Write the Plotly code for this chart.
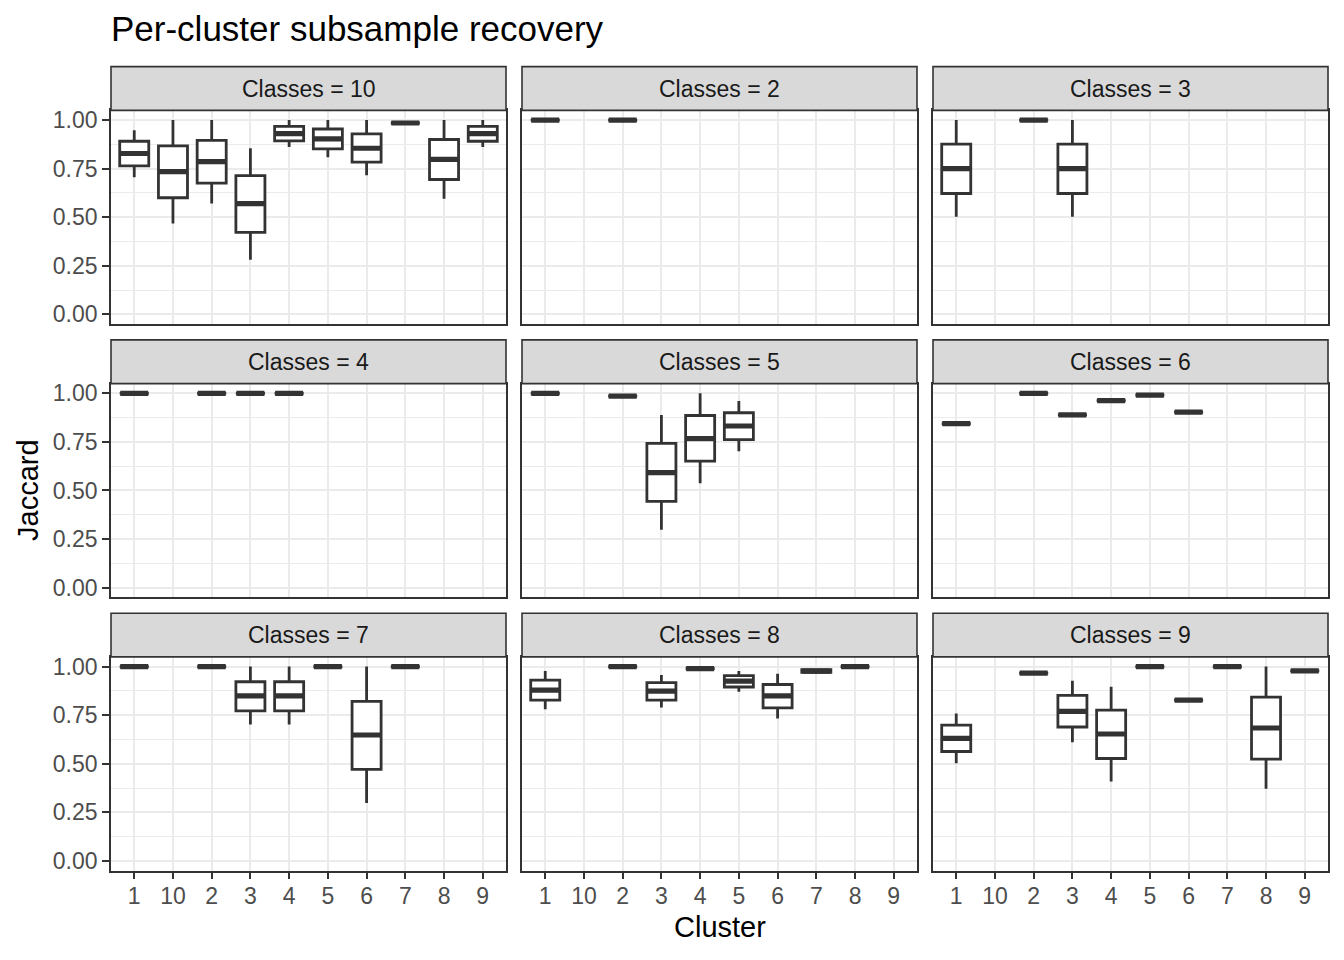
import plotly.graph_objects as go

# ---------------- data ----------------
cluster_order = ["1", "10", "2", "3", "4", "5", "6", "7", "8", "9"]
panel_labels = ["Classes = 10", "Classes = 2", "Classes = 3",
                "Classes = 4", "Classes = 5", "Classes = 6",
                "Classes = 7", "Classes = 8", "Classes = 9"]
y_tick_vals = [0.0, 0.25, 0.5, 0.75, 1.0]
y_tick_text = ["0.00", "0.25", "0.50", "0.75", "1.00"]

# Classes = 10
k10_x = ["1", "10", "2", "3", "4", "5", "6", "7", "8", "9"]
k10_low = [0.706, 0.468, 0.570, 0.281, 0.861, 0.808, 0.716, 0.985, 0.595, 0.861]
k10_q1 = [0.764, 0.600, 0.675, 0.422, 0.893, 0.852, 0.784, 0.985, 0.694, 0.891]
k10_med = [0.828, 0.735, 0.786, 0.570, 0.930, 0.903, 0.855, 0.985, 0.798, 0.930]
k10_q3 = [0.891, 0.867, 0.895, 0.714, 0.968, 0.954, 0.929, 0.985, 0.900, 0.968]
k10_high = [0.947, 1.000, 1.000, 0.855, 1.000, 1.000, 1.000, 0.985, 1.000, 1.000]

# Classes = 2
k2_x = ["1", "2"]
k2_low = [1.0, 1.0]
k2_q1 = [1.0, 1.0]
k2_med = [1.0, 1.0]
k2_q3 = [1.0, 1.0]
k2_high = [1.0, 1.0]

# Classes = 3
k3_x = ["1", "2", "3"]
k3_low = [0.502, 1.0, 0.502]
k3_q1 = [0.622, 1.0, 0.622]
k3_med = [0.750, 1.0, 0.750]
k3_q3 = [0.876, 1.0, 0.876]
k3_high = [1.000, 1.0, 1.000]

# Classes = 4
k4_x = ["1", "2", "3", "4"]
k4_low = [1.0, 1.0, 1.0, 1.0]
k4_q1 = [1.0, 1.0, 1.0, 1.0]
k4_med = [1.0, 1.0, 1.0, 1.0]
k4_q3 = [1.0, 1.0, 1.0, 1.0]
k4_high = [1.0, 1.0, 1.0, 1.0]

# Classes = 5
k5_x = ["1", "2", "3", "4", "5"]
k5_low = [1.0, 0.986, 0.298, 0.537, 0.702]
k5_q1 = [1.0, 0.986, 0.444, 0.651, 0.762]
k5_med = [1.0, 0.986, 0.592, 0.767, 0.832]
k5_q3 = [1.0, 0.986, 0.742, 0.886, 0.900]
k5_high = [1.0, 0.986, 0.888, 1.000, 0.961]

# Classes = 6
k6_x = ["1", "2", "3", "4", "5", "6"]
k6_low = [0.844, 1.0, 0.889, 0.963, 0.991, 0.903]
k6_q1 = [0.844, 1.0, 0.889, 0.963, 0.991, 0.903]
k6_med = [0.844, 1.0, 0.889, 0.963, 0.991, 0.903]
k6_q3 = [0.844, 1.0, 0.889, 0.963, 0.991, 0.903]
k6_high = [0.844, 1.0, 0.889, 0.963, 0.991, 0.903]

# Classes = 7
k7_x = ["1", "2", "3", "4", "5", "6", "7"]
k7_low = [1.0, 1.0, 0.702, 0.702, 1.0, 0.298, 1.0]
k7_q1 = [1.0, 1.0, 0.772, 0.772, 1.0, 0.471, 1.0]
k7_med = [1.0, 1.0, 0.849, 0.849, 1.0, 0.648, 1.0]
k7_q3 = [1.0, 1.0, 0.922, 0.922, 1.0, 0.821, 1.0]
k7_high = [1.0, 1.0, 1.000, 1.000, 1.0, 1.000, 1.0]

# Classes = 8
k8_x = ["1", "2", "3", "4", "5", "6", "7", "8"]
k8_low = [0.781, 1.0, 0.789, 0.990, 0.871, 0.733, 0.962, 1.0]
k8_q1 = [0.827, 1.0, 0.827, 0.990, 0.895, 0.788, 0.970, 1.0]
k8_med = [0.879, 1.0, 0.874, 0.990, 0.925, 0.849, 0.977, 1.0]
k8_q3 = [0.930, 1.0, 0.918, 0.990, 0.954, 0.908, 0.984, 1.0]
k8_high = [0.978, 1.0, 0.957, 0.990, 0.978, 0.963, 0.990, 1.0]

# Classes = 9
k9_x = ["1", "2", "3", "4", "5", "6", "7", "8", "9"]
k9_low = [0.502, 0.966, 0.611, 0.408, 1.0, 0.827, 1.0, 0.371, 0.978]
k9_q1 = [0.563, 0.966, 0.689, 0.527, 1.0, 0.827, 1.0, 0.524, 0.978]
k9_med = [0.631, 0.966, 0.770, 0.653, 1.0, 0.827, 1.0, 0.684, 0.978]
k9_q3 = [0.699, 0.966, 0.852, 0.776, 1.0, 0.827, 1.0, 0.843, 0.978]
k9_high = [0.759, 0.966, 0.927, 0.896, 1.0, 0.827, 1.0, 1.000, 0.978]

panel_data = [
    (k10_x, k10_low, k10_q1, k10_med, k10_q3, k10_high),
    (k2_x, k2_low, k2_q1, k2_med, k2_q3, k2_high),
    (k3_x, k3_low, k3_q1, k3_med, k3_q3, k3_high),
    (k4_x, k4_low, k4_q1, k4_med, k4_q3, k4_high),
    (k5_x, k5_low, k5_q1, k5_med, k5_q3, k5_high),
    (k6_x, k6_low, k6_q1, k6_med, k6_q3, k6_high),
    (k7_x, k7_low, k7_q1, k7_med, k7_q3, k7_high),
    (k8_x, k8_low, k8_q1, k8_med, k8_q3, k8_high),
    (k9_x, k9_low, k9_q1, k9_med, k9_q3, k9_high),
]

# ---------------- layout geometry ----------------
OFF = 8                      # default page body margin
W, H = 1344 - OFF, 960 - OFF
col_left = [111, 522, 933]
panel_w = 395
row_top = [108, 383, 658]
panel_h = 215
strip_h = 44

FONT = "Liberation Sans, Arial, Helvetica, sans-serif"
DARK = "#333333"


def px(x):
    return (x - OFF) / W


def py(y):
    return 1 - (y - OFF) / H


fig = go.Figure()
layout_axes = {}
shapes = []
annotations = []

for k, (xs, lo, q1, med, q3, hi) in enumerate(panel_data):
    r, c = divmod(k, 3)
    ax = "" if k == 0 else str(k + 1)
    xname, yname = "x" + ax, "y" + ax
    fig.add_trace(go.Box(
        x=xs, lowerfence=lo, q1=q1, median=med, q3=q3, upperfence=hi,
        xaxis=xname, yaxis=yname, width=0.75, whiskerwidth=0,
        fillcolor="white", line=dict(color=DARK, width=2.8),
        boxpoints=False, hoverinfo="skip", showlegend=False,
    ))
    fig.add_trace(go.Scatter(
        x=xs, y=med, xaxis=xname, yaxis=yname, mode="markers",
        marker=dict(symbol="line-ew", size=20, color=DARK,
                    line=dict(width=5.2, color=DARK)),
        hoverinfo="skip", showlegend=False,
    ))

    x0, x1 = col_left[c], col_left[c] + panel_w
    y0, y1 = row_top[r], row_top[r] + panel_h
    bottom = (r == 2)
    left = (c == 0)
    layout_axes["xaxis" + ax] = dict(
        domain=[px(x0), px(x1)], anchor=yname, type="category",
        categoryorder="array", categoryarray=cluster_order,
        range=[-0.6, 9.6], showgrid=True, gridcolor="#EBEBEB", gridwidth=1.7,
        zeroline=False, showline=True, mirror=True, linecolor=DARK, linewidth=1.6,
        ticks="outside" if bottom else "", ticklen=7, tickwidth=1.6, tickcolor=DARK,
        showticklabels=bottom, ticklabelstandoff=-3,
        tickfont=dict(family=FONT, size=23, color="#4D4D4D"),
        fixedrange=True,
    )
    layout_axes["yaxis" + ax] = dict(
        domain=[py(y1), py(y0)], anchor=xname, range=[-0.05, 1.05],
        tickvals=y_tick_vals, ticktext=y_tick_text,
        showgrid=True, gridcolor="#EBEBEB", gridwidth=1.7,
        minor=dict(tickvals=[0.125, 0.375, 0.625, 0.875], showgrid=True,
                   gridcolor="#EBEBEB", gridwidth=0.9),
        zeroline=False, showline=True, mirror=True, linecolor=DARK, linewidth=1.6,
        ticks="outside" if left else "", ticklen=7, tickwidth=1.6, tickcolor=DARK,
        showticklabels=left, tickfont=dict(family=FONT, size=23, color="#4D4D4D"),
        fixedrange=True,
    )
    # strip
    shapes.append(dict(type="rect", xref="paper", yref="paper",
                       x0=px(x0), x1=px(x1), y0=py(y0), y1=py(y0 - strip_h),
                       fillcolor="#D9D9D9", line=dict(color=DARK, width=1.6),
                       layer="above"))
    annotations.append(dict(text=panel_labels[k], xref="paper", yref="paper",
                            x=px((x0 + x1) / 2), y=py(y0 - strip_h / 2),
                            xanchor="center", yanchor="middle", showarrow=False,
                            font=dict(family=FONT, size=23, color="#1A1A1A")))

annotations.append(dict(text="Per-cluster subsample recovery", xref="paper", yref="paper",
                        x=px(109), y=py(26), xanchor="left", yanchor="middle",
                        showarrow=False, font=dict(family=FONT, size=35, color="black")))
annotations.append(dict(text="Cluster", xref="paper", yref="paper",
                        x=px(719.5), y=py(930), xanchor="center", yanchor="middle",
                        showarrow=False, font=dict(family=FONT, size=29, color="black")))
annotations.append(dict(text="Jaccard", xref="paper", yref="paper",
                        x=px(28), y=py(490), xanchor="center", yanchor="middle",
                        textangle=-90, showarrow=False,
                        font=dict(family=FONT, size=29, color="black")))

fig.update_layout(
    width=W, height=H, margin=dict(l=0, r=0, t=0, b=0),
    paper_bgcolor="white", plot_bgcolor="white",
    font=dict(family=FONT), showlegend=False,
    shapes=shapes, annotations=annotations, boxmode="overlay",
    **layout_axes,
)

fig.write_html("out.html")
